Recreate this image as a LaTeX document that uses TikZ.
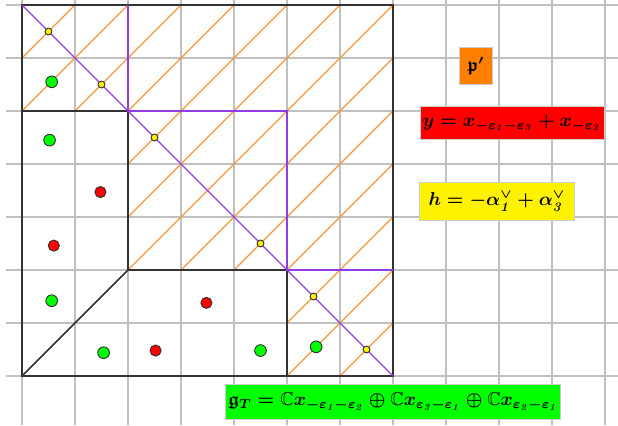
\documentclass[tikz,border=0pt]{standalone}
\usepackage{amsmath}
\usepackage{amssymb}
\usepackage{xcolor}
\usepackage{tikz}
\usetikzlibrary{positioning}
\definecolor{gridgray}{RGB}{192, 192, 192}
\definecolor{hatchorange}{RGB}{245, 150, 60}
\definecolor{wallpurple}{RGB}{145, 60, 230}
\definecolor{boxorange}{RGB}{255, 128, 0}
\newcommand{\itd}[1]{\mathit{#1}}

\begin{document}
\begin{tikzpicture}[
    gridline/.style={draw=gridgray, line width=1pt},
    hatch/.style={draw=hatchorange, line width=0.6pt},
    wall/.style={draw=wallpurple, line width=1.3pt},
    antidiag/.style={draw=wallpurple, line width=0.6pt},
    edge/.style={draw=black!80, line width=0.8pt},
    rdot/.style={circle, draw=black!80, fill=red, minimum size=0.21cm,
                 inner sep=0pt, line width=0.5pt},
    gdot/.style={circle, draw=black!80, fill=green, minimum size=0.22cm,
                 inner sep=0pt, line width=0.5pt},
    ydot/.style={circle, draw=black!80, fill=yellow, minimum size=0.13cm,
                 inner sep=0pt, line width=0.5pt},
    tagbox/.style={rectangle, draw=gray!40, line width=0.4pt,
                   font=\normalsize\boldmath, inner ysep=3pt, inner xsep=1.5pt}
]

\useasboundingbox (-0.415,-0.925) rectangle (11.245,7.094);

% grid
\foreach \x in {0,...,11} \draw[gridline] (\x,-0.925) -- (\x,7.094);
\foreach \y in {0,...,7} \draw[gridline] (-0.3,\y) -- (11.245,\y);

% hatched part
\begin{scope}
\clip (0,5) -- (2,5) -- (2,2) -- (5,2) -- (5,0) -- (7,0) -- (7,7) -- (0,7) -- cycle;
\foreach \k in {-7,...,7} \draw[hatch] (0,\k) -- (7,7+\k);
\end{scope}

% walls
\draw[edge] (0,0) rectangle (7,7);
\draw[edge] (0,5) -- (2,5);
\draw[edge] (2,5) -- (2,2) -- (5,2) -- (5,0);
\draw[edge] (0,0) -- (2,2);
\draw[wall] (2,7) -- (2,5) -- (5,5) -- (5,2) -- (7,2);
\draw[antidiag] (0,7) -- (7,0);

% points
\node[ydot] (y1) at (0.5,6.5) {};
\node[ydot] (y2) at (1.5,5.5) {};
\node[ydot] (y3) at (2.5,4.5) {};
\node[ydot] (y4) at (4.5,2.5) {};
\node[ydot] (y5) at (5.5,1.5) {};
\node[ydot] (y6) at (6.5,0.5) {};

\node[gdot] (g1) at (0.56,5.55) {};
\node[gdot] (g2) at (0.52,4.45) {};
\node[gdot] (g3) at (0.56,1.42) {};
\node[gdot] (g4) at (1.54,0.44) {};
\node[gdot] (g5) at (4.50,0.48) {};
\node[gdot] (g6) at (5.55,0.55) {};

\node[rdot] (r1) at (1.48,3.47) {};
\node[rdot] (r2) at (0.60,2.46) {};
\node[rdot] (r3) at (2.52,0.48) {};
\node[rdot] (r4) at (3.48,1.38) {};

% labels
\node[tagbox, fill=boxorange, minimum width=0.62cm, minimum height=0.70cm]
    (pprime) at (8.56,5.85) {$\mathfrak{p}'$};
\node[tagbox, fill=red, minimum width=3.47cm, minimum height=0.62cm]
    (yvec) at (9.245,4.774)
    {$y = x_{-\varepsilon_{\itd{1}}-\varepsilon_{\itd{3}}} + x_{-\varepsilon_{\itd{2}}}$};
\node[tagbox, fill=yellow, minimum width=2.94cm, minimum height=0.71cm]
    (hvec) at (8.96,3.29)
    {$h = -\alpha_{\itd{1}}^{\vee} + \alpha_{\itd{3}}^{\vee}$};
\node[tagbox, fill=green, minimum width=6.23cm, minimum height=0.66cm]
    (gT) at (7.00,-0.487)
    {$\mathfrak{g}_T = \mathbb{C}x_{-\varepsilon_{\itd{1}}-\varepsilon_{\itd{2}}}
     \oplus \mathbb{C}x_{\varepsilon_{\itd{3}}-\varepsilon_{\itd{1}}}
     \oplus \mathbb{C}x_{\varepsilon_{\itd{2}}-\varepsilon_{\itd{1}}}$};

\end{tikzpicture}
\end{document}
